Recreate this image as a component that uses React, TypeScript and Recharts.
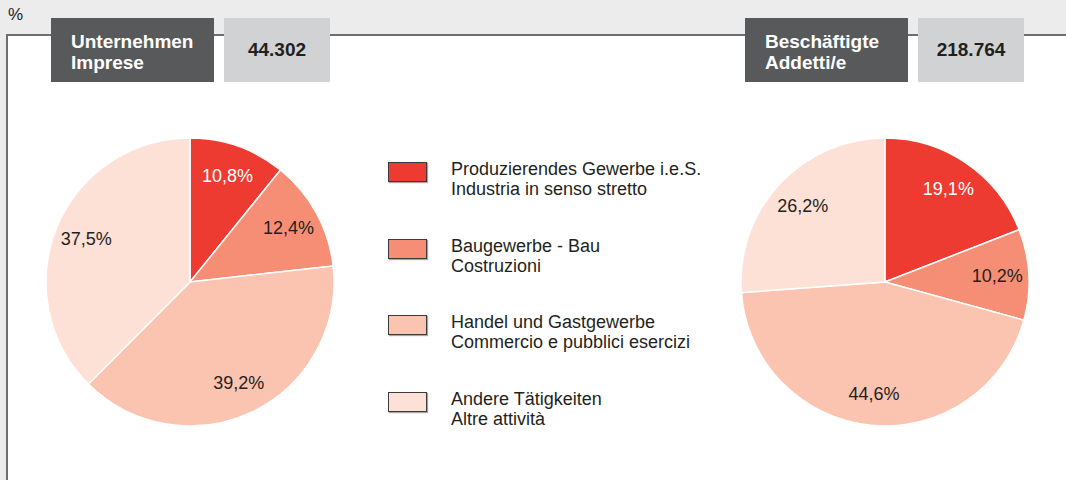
import React from "react";
import { Pie, PieChart, Cell } from "recharts";

const categoriesDe = [
  "Produzierendes Gewerbe i.e.S.",
  "Baugewerbe - Bau",
  "Handel und Gastgewerbe",
  "Andere Tätigkeiten",
];
const categoriesIt = [
  "Industria in senso stretto",
  "Costruzioni",
  "Commercio e pubblici esercizi",
  "Altre attività",
];
const enterpriseShares = [10.8, 12.4, 39.2, 37.5];
const employeeShares = [19.1, 10.2, 44.6, 26.2];
const sliceColors = ["#ed3b32", "#f58e74", "#fbc4b0", "#fde0d6"];

const headers = [
  { title: ["Unternehmen", "Imprese"], total: "44.302" },
  { title: ["Beschäftigte", "Addetti/e"], total: "218.764" },
];

const FONT = '"Liberation Sans", Arial, Helvetica, sans-serif';
const RADIAN = Math.PI / 180;

const toRows = (values: number[]) =>
  values.map((v, i) => ({ name: categoriesDe[i], value: v }));

const renderLabel = (props: any) => {
  const { cx, cy, midAngle, outerRadius, index, value } = props;
  const r = outerRadius * 0.78;
  const x = cx + r * Math.cos(-midAngle * RADIAN);
  const y = cy + r * Math.sin(-midAngle * RADIAN);
  return (
    <text
      x={x}
      y={y}
      textAnchor="middle"
      dominantBaseline="central"
      fill={index === 0 ? "#ffffff" : "#231f20"}
      fontSize={18}
      fontFamily={FONT}
    >
      {`${Number(value).toFixed(1).replace(".", ",")}%`}
    </text>
  );
};

const Header = ({ left, idx }: { left: number; idx: number }) => (
  <>
    <div
      style={{
        position: "absolute",
        left,
        top: 18,
        width: 163,
        height: 64,
        background: "#58595b",
        color: "#fff",
        fontWeight: "bold",
        fontSize: 19,
        lineHeight: "21px",
        padding: "13px 0 0 20px",
        boxSizing: "border-box",
      }}
    >
      {headers[idx].title[0]}
      <br />
      {headers[idx].title[1]}
    </div>
    <div
      style={{
        position: "absolute",
        left: left + 173,
        top: 18,
        width: 106,
        height: 64,
        background: "#d1d2d4",
        color: "#231f20",
        fontWeight: "bold",
        fontSize: 19,
        lineHeight: "64px",
        textAlign: "center",
      }}
    >
      {headers[idx].total}
    </div>
  </>
);

const LegendBlock = () => (
  <div style={{ position: "absolute", left: 388, top: 162 }}>
    {categoriesDe.map((de, i) => (
      <div
        key={de}
        style={{ position: "absolute", top: i * 76.5, left: 0, width: 340 }}
      >
        <div
          style={{
            position: "absolute",
            left: 0,
            top: 0,
            width: 37,
            height: 18,
            background: sliceColors[i],
            border: "1px solid #3a3a3a",
            boxShadow: "1px 1px 1px rgba(0,0,0,0.35)",
          }}
        />
        <div
          style={{
            position: "absolute",
            left: 63,
            top: -3,
            fontSize: 18,
            lineHeight: "20px",
            color: "#231f20",
            whiteSpace: "nowrap",
          }}
        >
          {de}
          <br />
          {categoriesIt[i]}
        </div>
      </div>
    ))}
  </div>
);

export default function App() {
  return (
    <div
      style={{
        position: "relative",
        width: 1066,
        height: 480,
        overflow: "hidden",
        background: "#ececec",
        fontFamily: FONT,
      }}
    >
      <style>{`body{margin:0}`}</style>
      <div
        style={{
          position: "absolute",
          left: 8,
          top: 5,
          fontSize: 17,
          color: "#231f20",
        }}
      >
        %
      </div>
      <div
        style={{
          position: "absolute",
          left: 6,
          top: 34,
          width: 1080,
          height: 470,
          background: "#fff",
          borderTop: "2px solid #6d6e71",
          borderLeft: "2px solid #6d6e71",
        }}
      />
      <PieChart
        width={1066}
        height={480}
        margin={{ top: 0, right: 0, bottom: 0, left: 0 }}
        style={{ position: "absolute", left: 0, top: 0 }}
      >
        <Pie
          data={toRows(enterpriseShares)}
          dataKey="value"
          cx={190}
          cy={282}
          outerRadius={144}
          startAngle={90}
          endAngle={-270}
          stroke="#ffffff"
          strokeWidth={1.5}
          label={renderLabel}
          labelLine={false}
          isAnimationActive={false}
        >
          {enterpriseShares.map((_, i) => (
            <Cell key={i} fill={sliceColors[i]} />
          ))}
        </Pie>
        <Pie
          data={toRows(employeeShares)}
          dataKey="value"
          cx={885}
          cy={282}
          outerRadius={144}
          startAngle={90}
          endAngle={-270}
          stroke="#ffffff"
          strokeWidth={1.5}
          label={renderLabel}
          labelLine={false}
          isAnimationActive={false}
        >
          {employeeShares.map((_, i) => (
            <Cell key={i} fill={sliceColors[i]} />
          ))}
        </Pie>
      </PieChart>
      <Header left={51} idx={0} />
      <Header left={745} idx={1} />
      <LegendBlock />
    </div>
  );
}
